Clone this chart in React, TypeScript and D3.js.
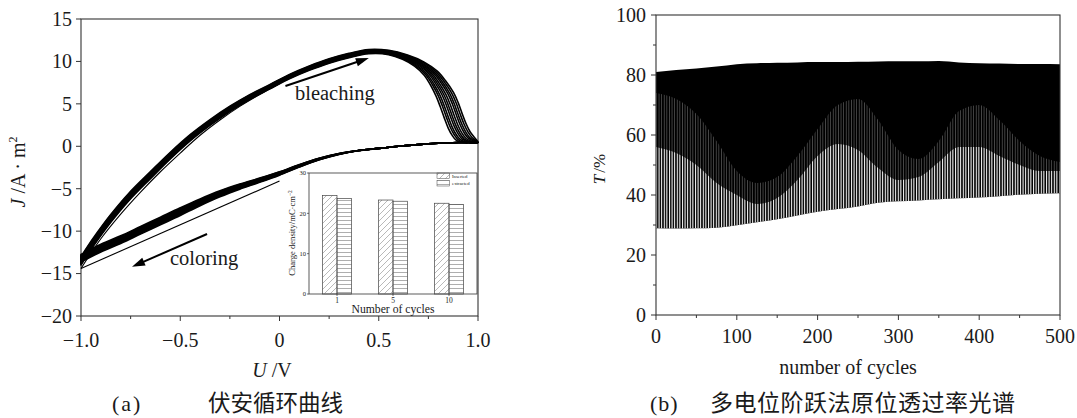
import React from "react";
import * as d3 from "d3";

// ---------- (a) cyclic voltammetry, 10 cycles ----------
// innermost anodic (bleaching) branch, U in V, J in A/m²
const anodicU = [-1.0, -0.97, -0.92, -0.85, -0.76, -0.65, -0.55, -0.45, -0.35, -0.25, -0.15, -0.05, 0.05, 0.15, 0.25, 0.35, 0.45, 0.55, 0.62, 0.68, 0.73, 0.76, 0.79, 0.81, 0.83, 0.85, 0.87, 0.89, 0.92, 0.96, 1.0];
const anodicJ = [-13.5, -12.4, -10.7, -8.5, -6.0, -3.4, -1.1, 1.0, 2.8, 4.4, 5.8, 7.0, 8.2, 9.2, 10.05, 10.7, 11.15, 11.05, 10.5, 9.7, 8.6, 7.5, 6.1, 4.9, 3.6, 2.4, 1.5, 0.9, 0.55, 0.45, 0.45];
// cathodic (coloring) branch, scanned from +1 V back to -1 V
const cathodicU = [0.95, 0.9, 0.8, 0.7, 0.6, 0.5, 0.4, 0.3, 0.2, 0.1, 0.0, -0.1, -0.2, -0.3, -0.4, -0.5, -0.6, -0.7, -0.8, -0.9, -1.0];
const cathodicJ = [0.48, 0.45, 0.35, 0.2, 0.0, -0.25, -0.5, -0.9, -1.5, -2.3, -3.2, -4.0, -4.75, -5.6, -6.6, -7.7, -8.8, -9.9, -11.0, -12.0, -13.2];
// per-cycle drift of the bleaching edge (V) and of the current level (A/m²)
const kneeShift = [0, 0.011, 0.02, 0.031, 0.04, 0.05, 0.061, 0.07, 0.08, 0.09];
const levelSpread = [-0.5, -0.38, -0.27, -0.17, -0.05, 0.05, 0.16, 0.27, 0.39, 0.5];
// first sweep: from open circuit (0 V) down to -1 V, then up
const firstCathodicU = [0.0, -1.0];
const firstCathodicJ = [-4.1, -14.4];
const firstAnodicU = [-1.0, -0.95, -0.9, -0.8, -0.7, -0.6, -0.5, -0.4, -0.3, -0.2, -0.1, 0.0, 0.1, 0.2];
const firstAnodicJ = [-14.4, -12.6, -10.9, -8.0, -5.4, -3.0, -0.8, 1.3, 3.1, 4.7, 6.1, 7.4, 8.6, 9.55];

const uTicks = [-1.0, -0.5, 0, 0.5, 1.0];
const uMinorTicks = [-0.75, -0.25, 0.25, 0.75];
const jTicks = [15, 10, 5, 0, -5, -10, -15, -20];

// inset: charge density per cycle
const insetCycles = ["1", "5", "10"];
const insertedCharge = [24.4, 23.3, 22.5];
const extractedCharge = [23.7, 23.0, 22.2];
const insetTicks = [0, 10, 20, 30];

// ---------- (b) in-situ transmittance under multi-step potential ----------
const cycleGrid = [0, 25, 50, 75, 100, 125, 150, 175, 200, 225, 250, 275, 300, 325, 350, 375, 400, 425, 450, 475, 500];
const peakT = [81.0, 81.7, 82.2, 82.8, 83.6, 83.9, 84.1, 84.2, 84.3, 84.3, 84.4, 84.5, 84.6, 84.6, 84.7, 84.2, 83.9, 83.8, 83.7, 83.7, 83.6];
const troughT = [28.9, 28.8, 28.9, 29.1, 29.9, 30.9, 31.9, 33.2, 34.4, 35.3, 36.2, 37.4, 37.9, 38.2, 38.6, 38.9, 39.2, 39.6, 40.1, 40.4, 40.6];
// upper reach of the light (open) and grey (partly open) comb regions
const openTopT = [56, 54, 50, 44, 40, 37, 39, 45, 53, 57, 55, 49, 45, 46, 51, 56, 56, 53, 50, 48, 48];
const greyTopT = [74, 72, 67, 58, 48, 44, 46, 53, 62, 70, 72, 65, 55, 52, 58, 68, 70, 65, 58, 53, 51];
const cycleTicks = [0, 100, 200, 300, 400, 500];
const cycleMinorTicks = [50, 150, 250, 350, 450];
const tTicks = [0, 20, 40, 60, 80, 100];
const tMinorTicks = [10, 30, 50, 70, 90];

const SERIF = "Liberation Serif, DejaVu Serif, Noto Serif, Times New Roman, Times, serif";
const CJK = "Noto Sans CJK SC, sans-serif";
const INK = "#1a1a1a";
const FRAME = "#333";

const serif = (size: number, extra: React.CSSProperties = {}): React.CSSProperties => ({
  fontFamily: SERIF,
  fontSize: size,
  ...extra,
});

const clamp01 = (v: number) => Math.max(0, Math.min(1, v));

function cyclePoints(k: number, s: number): [number, number][] {
  const pts: [number, number][] = [];
  anodicU.forEach((u, i) => {
    const su = u + k * clamp01((u - 0.55) / 0.25);
    const a = u < 0 ? 0.5 + 0.5 * -u : 0.5 * (1 - clamp01((u - 0.85) / 0.15));
    if (su < 0.995 || i === anodicU.length - 1) pts.push([Math.min(su, 1), anodicJ[i] + s * a]);
  });
  cathodicU.forEach((u, i) => {
    const c = clamp01((0.4 - u) / 0.9) * 0.9;
    pts.push([u, cathodicJ[i] + s * c]);
  });
  return pts;
}

function arrowParts(x1: number, y1: number, x2: number, y2: number, head = 13, half = 4.2) {
  const ang = Math.atan2(y2 - y1, x2 - x1);
  const bx = x2 - head * Math.cos(ang);
  const by = y2 - head * Math.sin(ang);
  const px = -Math.sin(ang) * half;
  const py = Math.cos(ang) * half;
  return {
    line: { x1, y1, x2: bx + 2 * Math.cos(ang), y2: by + 2 * Math.sin(ang) },
    head: `M${x2},${y2}L${bx + px},${by + py}L${bx - px},${by - py}Z`,
  };
}

function PanelA() {
  const x = d3.scaleLinear().domain([-1, 1]).range([81, 478]);
  const y = d3.scaleLinear().domain([-20, 15]).range([316, 19]);
  const line = d3
    .line<[number, number]>()
    .x((d) => x(d[0]))
    .y((d) => y(d[1]))
    .curve(d3.curveCatmullRom.alpha(0.5));
  const cycles = kneeShift.map((k, i) => line(cyclePoints(k, levelSpread[i])) + "Z");
  const firstSweep = line(firstCathodicU.map((u, i) => [u, firstCathodicJ[i]] as [number, number]));
  const firstRise = line(firstAnodicU.map((u, i) => [u, firstAnodicJ[i]] as [number, number]));

  const bleach = arrowParts(x(0.03), y(7.1), x(0.45), y(10.4));
  const color = arrowParts(x(-0.365), y(-10.34), x(-0.743), y(-14.2));

  // inset
  const ix = d3.scaleBand<string>().domain(insetCycles).range([309, 477]).paddingInner(0.485).paddingOuter(0.2425);
  const iy = d3.scaleLinear().domain([0, 30]).range([294, 173]);
  const bw = ix.bandwidth() / 2;

  return (
    <g>
      <rect x={x(-1)} y={y(15)} width={x(1) - x(-1)} height={y(-20) - y(15)} fill="none" stroke={FRAME} strokeWidth={1.1} />
      {cycles.map((d, i) => (
        <path key={i} d={d} fill="none" stroke="#000" strokeWidth={1.6} strokeLinejoin="round" />
      ))}
      <path d={firstSweep || ""} fill="none" stroke="#000" strokeWidth={1.1} />
      <path d={firstRise || ""} fill="none" stroke="#000" strokeWidth={1.1} />

      {/* axes */}
      {uTicks.map((t) => (
        <g key={t}>
          <line x1={x(t)} x2={x(t)} y1={y(-20)} y2={y(-20) + 5} stroke={FRAME} strokeWidth={1} />
          <text x={x(t)} y={347} textAnchor="middle" style={serif(20)} fill={INK}>
            {t === 0 ? "0" : (t < 0 ? "\u2212" : "") + Math.abs(t).toFixed(1)}
          </text>
        </g>
      ))}
      {uMinorTicks.map((t) => (
        <line key={t} x1={x(t)} x2={x(t)} y1={y(-20)} y2={y(-20) + 3} stroke={FRAME} strokeWidth={1} />
      ))}
      {jTicks.map((t) => (
        <g key={t}>
          <line x1={x(-1) - 5} x2={x(-1)} y1={y(t)} y2={y(t)} stroke={FRAME} strokeWidth={1} />
          <text x={72} y={y(t)} dy="0.34em" textAnchor="end" style={serif(20)} fill={INK}>
            {(t < 0 ? "\u2212" : "") + Math.abs(t)}
          </text>
        </g>
      ))}
      <text x={272} y={377} textAnchor="middle" style={serif(20)} fill={INK}>
        <tspan fontStyle="italic">U</tspan> /V
      </text>
      <text transform="translate(25,172) rotate(-90)" textAnchor="middle" style={serif(20)} fill={INK}>
        <tspan fontStyle="italic">J</tspan> /A · m<tspan dy={-8} fontSize={12}>2</tspan>
      </text>

      {/* scan direction notes */}
      <line {...bleach.line} stroke="#000" strokeWidth={2} />
      <path d={bleach.head} fill="#000" />
      <text x={x(0.078)} y={y(5.45)} style={serif(20.5)} fill={INK}>bleaching</text>
      <line {...color.line} stroke="#000" strokeWidth={2} />
      <path d={color.head} fill="#000" />
      <text x={x(-0.552)} y={y(-14.0)} style={serif(20.5)} fill={INK}>coloring</text>

      {/* inset bar chart */}
      <defs>
        <pattern id="hatchDiag" patternUnits="userSpaceOnUse" width={6} height={6}>
          <path d="M0,6 L6,0 M-1.5,1.5 L1.5,-1.5 M4.5,7.5 L7.5,4.5" stroke="#8a8a8a" strokeWidth={0.6} />
        </pattern>
        <pattern id="hatchHoriz" patternUnits="userSpaceOnUse" width={4} height={4}>
          <line x1={0} x2={4} y1={0.5} y2={0.5} stroke="#777" strokeWidth={0.6} />
        </pattern>
      </defs>
      <rect x={309} y={173} width={168} height={121} fill="#fff" stroke={FRAME} strokeWidth={0.8} />
      {insetCycles.map((c, i) => {
        const x0 = ix(c) as number;
        return (
          <g key={c}>
            <rect x={x0} y={iy(insertedCharge[i])} width={bw} height={iy(0) - iy(insertedCharge[i])} fill="url(#hatchDiag)" stroke="#444" strokeWidth={0.7} />
            <rect x={x0 + bw} y={iy(extractedCharge[i])} width={bw} height={iy(0) - iy(extractedCharge[i])} fill="url(#hatchHoriz)" stroke="#444" strokeWidth={0.7} />
            <line x1={x0 + bw} x2={x0 + bw} y1={iy(0)} y2={iy(0) + 2} stroke={FRAME} strokeWidth={0.7} />
            <text x={x0 + bw} y={303} textAnchor="middle" style={serif(7.5)} fill={INK}>{c}</text>
          </g>
        );
      })}
      {insetTicks.map((t) => (
        <g key={t}>
          <line x1={307} x2={309} y1={iy(t)} y2={iy(t)} stroke={FRAME} strokeWidth={0.7} />
          <text x={306} y={iy(t)} dy="0.34em" textAnchor="end" style={serif(6.5)} fill={INK}>{t}</text>
        </g>
      ))}
      <text x={393} y={313} textAnchor="middle" style={serif(11.7)} fill={INK}>Number of cycles</text>
      <text transform="translate(295,233) rotate(-90)" textAnchor="middle" style={serif(8.6)} fill={INK}>
        Charge density/mC·cm<tspan dy={-3} fontSize={5.5}>−2</tspan>
      </text>
      <rect x={437} y={173} width={12.5} height={5.5} fill="url(#hatchDiag)" stroke="#444" strokeWidth={0.5} />
      <rect x={437} y={180.5} width={12.5} height={5.5} fill="url(#hatchHoriz)" stroke="#444" strokeWidth={0.5} />
      <text x={452} y={177.8} style={serif(4.8)} fill={INK}>Inserted</text>
      <text x={452} y={185.3} style={serif(4.8)} fill={INK}>extracted</text>

      <text x={112} y={411} style={serif(22, { letterSpacing: 2 })} fill={INK}>(a)</text>
      <text x={208} y={411} style={{ fontFamily: CJK, fontSize: 22.5 }} fill={INK}>伏安循环曲线</text>
    </g>
  );
}

function PanelB() {
  const x = d3.scaleLinear().domain([0, 500]).range([656, 1060]);
  const y = d3.scaleLinear().domain([0, 100]).range([315, 15]);
  const band = (top: number[]) =>
    d3
      .area<number>()
      .x((c) => x(c))
      .y0((_, i) => y(troughT[i]))
      .y1((_, i) => y(top[i]))
      .curve(d3.curveMonotoneX)(cycleGrid) || "";
  const full = band(peakT);
  const grey = band(greyTopT);
  const open = band(openTopT);

  return (
    <g>
      <defs>
        <pattern id="combGrey" patternUnits="userSpaceOnUse" width={2.6} height={10} x={656}>
          <rect x={0} y={0} width={0.6} height={10} fill="#6e6e6e" />
        </pattern>
        <pattern id="combOpen" patternUnits="userSpaceOnUse" width={2.6} height={10} x={656}>
          <rect x={0} y={0} width={1.0} height={10} fill="#f4f4f4" />
        </pattern>
      </defs>
      <path d={full} fill="#000" />
      <path d={grey} fill="url(#combGrey)" />
      <path d={open} fill="url(#combOpen)" />
      <rect x={x(0)} y={y(100)} width={x(500) - x(0)} height={y(0) - y(100)} fill="none" stroke={FRAME} strokeWidth={1.1} />

      {cycleTicks.map((t) => (
        <g key={t}>
          <line x1={x(t)} x2={x(t)} y1={y(0)} y2={y(0) + 5} stroke={FRAME} strokeWidth={1} />
          <text x={x(t)} y={343} textAnchor="middle" style={serif(20)} fill={INK}>{t}</text>
        </g>
      ))}
      {cycleMinorTicks.map((t) => (
        <line key={t} x1={x(t)} x2={x(t)} y1={y(0)} y2={y(0) + 3} stroke={FRAME} strokeWidth={1} />
      ))}
      {tTicks.map((t) => (
        <g key={t}>
          <line x1={x(0) - 5} x2={x(0)} y1={y(t)} y2={y(t)} stroke={FRAME} strokeWidth={1} />
          <text x={646} y={y(t)} dy="0.34em" textAnchor="end" style={serif(20)} fill={INK}>{t}</text>
        </g>
      ))}
      {tMinorTicks.map((t) => (
        <line key={t} x1={x(0) - 3} x2={x(0)} y1={y(t)} y2={y(t)} stroke={FRAME} strokeWidth={1} />
      ))}
      <text x={848} y={374} textAnchor="middle" style={serif(20)} fill={INK}>number of cycles</text>
      <text transform="translate(605,169) rotate(-90)" textAnchor="middle" style={serif(17)} fill={INK}>
        <tspan fontStyle="italic">T</tspan><tspan dx={2}>/%</tspan>
      </text>

      <text x={650} y={411} style={serif(22, { letterSpacing: 1 })} fill={INK}>(b)</text>
      <text x={710} y={411} style={{ fontFamily: CJK, fontSize: 23, letterSpacing: 0.5 }} fill={INK}>多电位阶跃法原位透过率光谱</text>
    </g>
  );
}

export default function App() {
  return (
    <svg
      width={1077}
      height={418}
      viewBox="0 0 1077 418"
      style={{ position: "absolute", left: 0, top: 0, display: "block", background: "#fff" }}
    >
      <rect width={1077} height={418} fill="#fff" />
      <PanelA />
      <PanelB />
    </svg>
  );
}
